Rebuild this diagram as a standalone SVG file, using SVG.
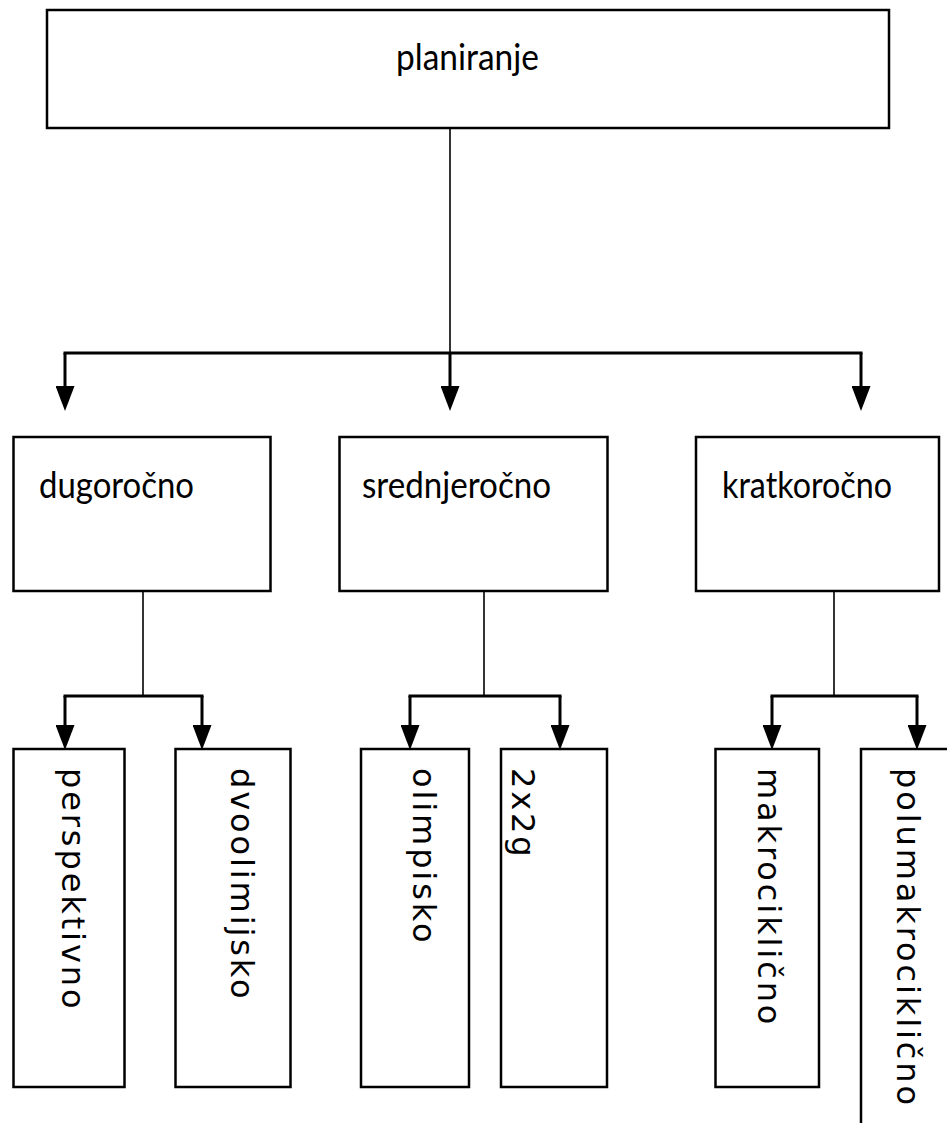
<svg xmlns="http://www.w3.org/2000/svg" width="947" height="1123" viewBox="0 0 947 1123">
<style>
.box{fill:#fff;stroke:#000;stroke-width:2.5}
.thin{stroke:#000;stroke-width:1.6;fill:none}
.thick{stroke:#000;stroke-width:3;fill:none}
.arr{stroke:#000;stroke-width:3;fill:none;marker-end:url(#ah)}
.lbl{font-family:Lato,"Open Sans",sans-serif;font-size:36px;fill:#000}
.vert{font-family:"DejaVu Sans",Verdana,sans-serif;font-size:32px;letter-spacing:2.9px;fill:#000}
</style>
<defs>
<marker id="ah" viewBox="0 0 25 19" refX="0" refY="9.5" markerWidth="25" markerHeight="19" orient="auto" markerUnits="userSpaceOnUse">
<path d="M0,0 L25,9.5 L0,19 z" fill="#000"/>
</marker>
</defs>
<rect width="947" height="1123" fill="#fff"/>
<g id="connectors">
<line class="thin" x1="450" y1="128" x2="450" y2="353"/>
<line class="thick" x1="63.5" y1="353" x2="862.5" y2="353"/>
<line class="arr" x1="65" y1="353" x2="65" y2="386"/>
<line class="arr" x1="450" y1="353" x2="450" y2="386"/>
<line class="arr" x1="861" y1="353" x2="861" y2="386"/>
<line class="thin" x1="143" y1="591" x2="143" y2="696"/>
<line class="thin" x1="484" y1="591" x2="484" y2="696"/>
<line class="thin" x1="834" y1="591" x2="834" y2="696"/>
<line class="thick" x1="63.5" y1="696" x2="203.5" y2="696"/>
<line class="thick" x1="408.5" y1="696" x2="561.5" y2="696"/>
<line class="thick" x1="770.5" y1="696" x2="918.5" y2="696"/>
<line class="arr" x1="65" y1="696" x2="65" y2="725"/>
<line class="arr" x1="202" y1="696" x2="202" y2="725"/>
<line class="arr" x1="410" y1="696" x2="410" y2="725"/>
<line class="arr" x1="560" y1="696" x2="560" y2="725"/>
<line class="arr" x1="772" y1="696" x2="772" y2="725"/>
<line class="arr" x1="917" y1="696" x2="917" y2="725"/>
</g>
<g id="planiranje">
<rect class="box" x="47" y="10" width="842" height="118"/>
<text class="lbl" x="396" y="70" textLength="143" lengthAdjust="spacingAndGlyphs">planiranje</text>
</g>
<g id="dugorocno">
<rect class="box" x="13.5" y="437" width="257" height="154"/>
<text class="lbl" x="39" y="498" textLength="155" lengthAdjust="spacingAndGlyphs">dugoročno</text>
</g>
<g id="srednjerocno">
<rect class="box" x="339.5" y="437" width="268" height="154"/>
<text class="lbl" x="362" y="498" textLength="189" lengthAdjust="spacingAndGlyphs">srednjeročno</text>
</g>
<g id="kratkorocno">
<rect class="box" x="696" y="437" width="243" height="154"/>
<text class="lbl" x="722" y="498" textLength="170" lengthAdjust="spacingAndGlyphs">kratkoročno</text>
</g>
<g id="perspektivno">
<rect class="box" x="13.5" y="749" width="111" height="338"/>
<text class="vert" transform="translate(62,768) rotate(90)">perspektivno</text>
</g>
<g id="dvoolimijsko">
<rect class="box" x="175.5" y="749" width="115" height="338"/>
<text class="vert" transform="translate(231,768) rotate(90)">dvoolimijsko</text>
</g>
<g id="olimpisko">
<rect class="box" x="361" y="749" width="108" height="338"/>
<text class="vert" transform="translate(413,768) rotate(90)">olimpisko</text>
</g>
<g id="x2g">
<rect class="box" x="501" y="749" width="106" height="338"/>
<text class="vert" transform="translate(512,768) rotate(90)">2x2g</text>
</g>
<g id="makrociklicno">
<rect class="box" x="715.5" y="749" width="103.5" height="338"/>
<text class="vert" transform="translate(758,768) rotate(90)">makrociklično</text>
</g>
<g id="polumakrociklicno">
<path class="box" d="M947,749 L861,749 L861,1123" style="fill:none"/>
<text class="vert" transform="translate(897,768) rotate(90)">polumakrociklično</text>
</g>
</svg>
